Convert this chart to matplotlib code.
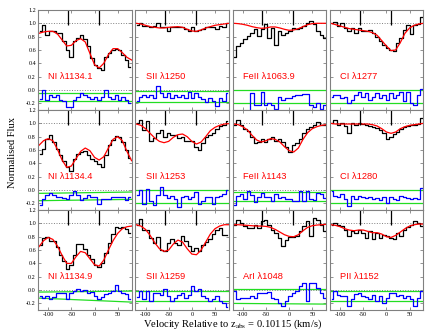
import matplotlib.pyplot as plt

plt.rcParams['font.family'] = 'Liberation Serif'
plt.rcParams['mathtext.fontset'] = 'stix'
plt.rcParams['axes.unicode_minus'] = False

# velocity bin centres of the spectra (km/s)
vel = [-118, -110.5, -103, -95.5, -88, -80.5, -73, -65.5, -58, -50.5, -43, -35.5, -28,
       -20.5, -13, -5.5, 2, 9.5, 17, 24.5, 32, 39.5, 47, 54.5, 62, 69.5, 77]
# velocities of the model profile points (km/s)
vmod = [-120, -110, -100, -90, -80, -70, -60, -50, -40, -30, -20, -10, 0, 10, 20, 30, 40, 50, 60, 70, 80]
# absorption components marked at the top
comps = [-58, 9]

labels = ['NI λ1134.1', 'SII λ1250', 'FeII λ1063.9', 'CI λ1277',
          'NI λ1134.4', 'SII λ1253', 'FeII λ1143', 'CI λ1280',
          'NI λ1134.9', 'SII λ1259', 'ArI λ1048', 'PII λ1152']

# NI 1134.1
ni1_flux = [0.88, 0.98, 0.83, 0.88, 0.88, 0.85, 0.85, 0.74, 0.60, 0.50, 0.73, 0.78, 0.83, 0.76,
            0.66, 0.48, 0.38, 0.33, 0.30, 0.50, 0.55, 0.60, 0.62, 0.60, 0.52, 0.45, 0.35]
ni1_model = [0.85, 0.87, 0.88, 0.88, 0.84, 0.75, 0.66, 0.67, 0.74, 0.77, 0.72, 0.55, 0.38, 0.33,
             0.40, 0.53, 0.62, 0.62, 0.56, 0.49, 0.45]
ni1_resid = [-0.13, 0.0, -0.15, -0.08, -0.1, -0.08, -0.15, -0.17, -0.25, -0.25, -0.15, -0.1, -0.05, -0.08,
             -0.1, -0.14, -0.1, -0.15, -0.1, 0.0, -0.1, -0.14, -0.08, -0.15, -0.1, -0.15, -0.2]

# SII 1250
s1_flux = [0.97, 1.0, 0.96, 0.96, 0.95, 0.96, 1.0, 0.94, 0.94, 0.88, 0.94, 0.95, 0.95, 0.94,
           0.92, 0.88, 0.94, 0.88, 0.9, 0.92, 0.94, 0.94, 0.94, 0.92, 0.96, 0.95, 1.0]
s1_model = [1.0, 0.99, 0.97, 0.95, 0.94, 0.93, 0.93, 0.94, 0.945, 0.95, 0.94, 0.91, 0.885, 0.88,
            0.9, 0.93, 0.95, 0.97, 0.98, 0.99, 1.0]
s1_resid = [-0.17, -0.1, -0.08, -0.1, -0.07, -0.12, 0.06, -0.05, -0.1, -0.04, -0.12, -0.08, -0.1, -0.07,
            -0.12, -0.03, -0.12, -0.04, -0.11, -0.13, -0.18, -0.12, -0.16, -0.24, -0.12, -0.17, -0.05]

# FeII 1063.9
fe1_flux = [0.5, 0.66, 0.71, 0.76, 0.81, 0.86, 0.91, 0.81, 0.91, 0.985, 0.78, 0.93, 0.68, 0.88,
            0.83, 0.86, 0.88, 0.93, 0.91, 0.93, 0.96, 1.01, 1.03, 0.985, 0.88, 0.83, 0.78]
fe1_model = [1.0, 0.995, 0.985, 0.97, 0.95, 0.935, 0.925, 0.93, 0.945, 0.945, 0.93, 0.91, 0.895, 0.9,
             0.92, 0.95, 0.98, 0.995, 1.0, 1.0, 1.0]
fe1_resid = [-0.6, -0.5, -0.45, -0.4, -0.33, -0.05, -0.23, -0.23, -0.035, -0.23, -0.2, -0.23, -0.28, -0.1,
             -0.15, -0.126, -0.126, -0.086, -0.076, -0.076, -0.066, -0.066, -0.23, -0.25, -0.2, -0.28, -0.23]

# CI 1277
c1_flux = [1.0, 1.02, 0.96, 1.0, 0.93, 0.88, 0.93, 0.86, 0.93, 0.88, 0.88, 0.9, 0.86, 0.79,
           0.73, 0.68, 0.63, 0.6, 0.58, 0.7, 0.78, 0.9, 0.98, 0.84, 0.98, 0.99, 1.1]
c1_model = [1.0, 0.98, 0.96, 0.94, 0.92, 0.91, 0.9, 0.89, 0.88, 0.86, 0.82, 0.74, 0.66, 0.59,
            0.6, 0.71, 0.85, 0.93, 0.97, 0.99, 1.0]
c1_resid = [-0.1, -0.08, -0.08, -0.12, -0.1, -0.2, -0.15, -0.08, -0.03, -0.1, -0.05, -0.15, -0.1, -0.05,
            -0.12, -0.08, -0.15, -0.05, -0.12, -0.08, -0.03, -0.17, -0.03, -0.2, -0.22, -0.08, 0.02]

# NI 1134.4
ni2_flux = [0.54, 0.62, 0.77, 0.82, 0.72, 0.62, 0.52, 0.44, 0.34, 0.29, 0.47, 0.54, 0.57, 0.59,
            0.52, 0.47, 0.44, 0.39, 0.34, 0.52, 0.67, 0.75, 0.81, 0.8, 0.72, 0.6, 0.48]
ni2_model = [0.67, 0.74, 0.77, 0.74, 0.61, 0.45, 0.34, 0.36, 0.47, 0.58, 0.63, 0.59, 0.49, 0.45,
             0.5, 0.63, 0.76, 0.8, 0.74, 0.58, 0.44]
ni2_resid = [-0.22, -0.13, -0.08, -0.05, -0.08, -0.1, -0.11, -0.12, -0.13, -0.08, -0.02, -0.08, -0.15, -0.12,
             -0.08, -0.11, -0.11, -0.21, -0.13, -0.14, -0.14, -0.11, -0.1, -0.11, -0.1, -0.15, -0.1]

# SII 1253
s2_flux = [1.0, 1.055, 0.9, 1.03, 0.73, 0.78, 0.85, 0.9, 0.8, 0.85, 0.83, 0.83, 0.78, 0.8,
           0.73, 0.74, 0.74, 0.65, 0.6, 0.7, 0.8, 0.83, 0.85, 0.92, 0.955, 0.98, 1.03]
s2_model = [0.99, 0.97, 0.92, 0.85, 0.78, 0.73, 0.71, 0.73, 0.79, 0.83, 0.84, 0.8, 0.73, 0.69,
            0.72, 0.8, 0.89, 0.94, 0.97, 0.99, 0.995]
s2_resid = [-0.07, 0.0, -0.21, 0.01, -0.17, -0.23, -0.07, 0.045, -0.07, -0.12, -0.09, -0.13, -0.26, -0.105,
            -0.09, -0.13, -0.105, -0.03, -0.21, -0.17, -0.105, -0.105, -0.21, -0.105, -0.09, -0.06, 0.0]

# FeII 1143
fe2_flux = [0.97, 1.05, 0.97, 0.92, 0.88, 0.8, 0.7, 0.72, 0.76, 0.72, 0.76, 0.8, 0.74, 0.77,
            0.72, 0.64, 0.57, 0.67, 0.7, 0.77, 0.86, 0.92, 0.94, 0.97, 1.02, 0.98, 0.97]
fe2_model = [0.99, 0.98, 0.95, 0.9, 0.82, 0.75, 0.72, 0.74, 0.77, 0.76, 0.72, 0.65, 0.59, 0.57,
             0.63, 0.76, 0.86, 0.92, 0.95, 0.97, 0.98]
fe2_resid = [-0.22, -0.09, -0.06, -0.13, -0.01, -0.08, -0.18, -0.11, -0.04, -0.11, -0.1, -0.16, -0.06, -0.12,
             -0.1, -0.13, -0.13, -0.16, -0.16, -0.01, -0.16, -0.02, -0.13, -0.15, -0.04, -0.06, -0.12]

# CI 1280
c2_flux = [1.0, 1.05, 0.97, 1.0, 0.96, 0.86, 1.0, 0.98, 1.0, 0.99, 0.98, 0.96, 0.95, 0.93,
           0.9, 0.86, 0.76, 0.8, 0.84, 0.87, 0.92, 0.94, 0.96, 0.97, 0.98, 0.99, 1.08]
c2_model = [1.0, 0.99, 0.99, 0.99, 0.99, 0.99, 0.99, 0.99, 0.99, 0.98, 0.96, 0.92, 0.87, 0.85,
            0.87, 0.92, 0.95, 0.97, 0.98, 0.99, 1.0]
c2_resid = [-0.01, -0.09, -0.11, -0.06, -0.14, -0.24, -0.09, -0.14, -0.09, -0.1, -0.12, -0.11, -0.14, -0.12,
            -0.15, -0.1, -0.19, -0.1, -0.14, -0.15, -0.09, -0.11, -0.12, -0.14, -0.12, -0.13, 0.03]

# NI 1134.9
ni3_flux = [0.68, 0.78, 0.8, 0.74, 0.74, 0.64, 0.52, 0.43, 0.31, 0.38, 0.53, 0.69, 0.69, 0.62,
            0.53, 0.46, 0.38, 0.34, 0.4, 0.55, 0.71, 0.84, 0.95, 0.93, 0.95, 0.92, 0.86]
ni3_model = [0.65, 0.74, 0.79, 0.76, 0.66, 0.52, 0.4, 0.4, 0.5, 0.58, 0.56, 0.47, 0.38, 0.36,
             0.45, 0.6, 0.74, 0.85, 0.92, 0.95, 0.96]
ni3_resid = [-0.09, -0.12, -0.09, -0.14, -0.1, -0.04, -0.05, -0.04, -0.14, -0.04, -0.02, 0.01, -0.02, 0.0,
             -0.04, -0.03, -0.09, -0.14, -0.1, -0.06, -0.04, -0.02, 0.08, -0.02, -0.04, -0.06, -0.14]

# SII 1259
s3_flux = [0.98, 1.06, 0.9, 0.9, 0.78, 0.71, 0.8, 0.6, 0.58, 0.7, 0.76, 0.71, 0.68, 0.81,
           0.73, 0.66, 0.58, 0.63, 0.58, 0.68, 0.72, 0.76, 0.84, 0.9, 0.93, 0.83, 0.83]
s3_model = [0.98, 0.96, 0.91, 0.82, 0.71, 0.62, 0.58, 0.6, 0.69, 0.75, 0.72, 0.62, 0.54, 0.53,
            0.6, 0.72, 0.84, 0.92, 0.96, 0.98, 0.98]
s3_resid = [-0.1, -0.02, -0.14, -0.02, -0.16, -0.04, -0.04, -0.07, 0.01, -0.09, -0.17, -0.12, -0.07, -0.04,
            -0.12, -0.07, 0.06, -0.015, 0.01, -0.09, -0.125, -0.16, -0.14, -0.09, -0.16, -0.19, -0.26]

# ArI 1048
ar_flux = [0.98, 1.055, 1.0, 0.955, 0.93, 0.93, 0.98, 0.93, 1.03, 1.055, 0.98, 0.905, 0.856, 0.78,
           0.665, 0.756, 0.796, 0.796, 0.816, 0.88, 0.955, 1.03, 0.806, 1.08, 1.055, 0.98, 0.88]
ar_model = [0.98, 0.98, 0.975, 0.97, 0.965, 0.96, 0.96, 0.955, 0.94, 0.91, 0.87, 0.83, 0.805, 0.8,
            0.83, 0.89, 0.94, 0.965, 0.975, 0.98, 0.985]
ar_resid = [-0.015, -0.14, -0.115, -0.115, -0.115, -0.09, -0.115, -0.05, -0.05, -0.04, -0.03, -0.115, -0.14, -0.19,
            -0.24, -0.164, -0.09, -0.05, -0.015, 0.06, 0.11, -0.164, 0.11, 0.11, 0.035, -0.04, -0.115]

# PII 1152
p_flux = [0.98, 1.0, 0.98, 0.955, 0.9, 0.81, 0.88, 0.86, 0.9, 0.86, 0.78, 0.88, 0.76, 0.86,
          0.78, 0.83, 0.81, 0.78, 0.76, 0.86, 0.81, 0.9, 0.95, 0.98, 1.03, 1.0, 0.955]
p_model = [0.98, 0.97, 0.95, 0.92, 0.9, 0.89, 0.9, 0.9, 0.88, 0.86, 0.86, 0.84, 0.8, 0.79,
           0.82, 0.87, 0.92, 0.96, 0.98, 0.99, 0.99]
p_resid = [-0.14, -0.015, -0.07, -0.09, -0.09, -0.24, -0.14, -0.055, -0.04, -0.09, -0.105, -0.14, -0.07, -0.164,
           -0.09, -0.19, -0.125, -0.04, -0.04, -0.09, -0.07, -0.115, -0.09, -0.14, -0.24, -0.115, -0.015]

# residual error bands (left end, right end)
band_hi = [(-0.04, -0.04), (-0.01, -0.01), (0.0, 0.0), (0.0, 0.0),
           (-0.05, -0.03), (0.0, 0.0), (-0.03, -0.03), (0.0, 0.0),
           (-0.03, -0.015), (-0.015, -0.015), (0.02, 0.02), (-0.015, -0.015)]
band_lo = [(-0.165, -0.165), (-0.185, -0.185), (-0.19, -0.19), (-0.19, -0.19),
           (-0.16, -0.14), (-0.19, -0.19), (-0.16, -0.16), (-0.19, -0.19),
           (-0.12, -0.18), (-0.17, -0.17), (-0.2, -0.21), (-0.165, -0.165)]

fluxes = [ni1_flux, s1_flux, fe1_flux, c1_flux, ni2_flux, s2_flux, fe2_flux, c2_flux,
          ni3_flux, s3_flux, ar_flux, p_flux]
models = [ni1_model, s1_model, fe1_model, c1_model, ni2_model, s2_model, fe2_model, c2_model,
          ni3_model, s3_model, ar_model, p_model]
resids = [ni1_resid, s1_resid, fe1_resid, c1_resid, ni2_resid, s2_resid, fe2_resid, c2_resid,
          ni3_resid, s3_resid, ar_resid, p_resid]

fig, axes = plt.subplots(3, 4, figsize=(4.37, 3.32), dpi=100, sharex=True, sharey=True)
fig.subplots_adjust(left=0.087, right=0.969, bottom=0.066, top=0.97, wspace=0.04, hspace=0)

for i, ax in enumerate(axes.flat):
    ax.set_xlim(-122, 80)
    ax.set_ylim(-0.3, 1.2)
    ends = ax.get_xlim()
    ax.axhline(1.0, color='gray', ls=':', lw=0.7)
    ax.axhline(0.0, color='gray', ls=':', lw=0.7)
    ax.plot(ends, band_hi[i], color='#22dd22', lw=0.9)
    ax.plot(ends, band_lo[i], color='#22dd22', lw=0.9)
    ax.step(vel, resids[i], where='mid', color='blue', lw=0.9)
    ax.step(vel, fluxes[i], where='mid', color='black', lw=0.9)
    ax.plot(vmod, models[i], color='red', lw=0.9)
    ax.vlines(comps, 0.97, 1.2, color='black', lw=0.9)
    ax.text(-100, 0.2, labels[i], color='red', fontsize=6.7, family='Liberation Sans', va='center')
    ax.set_xticks([-100, -50, 0, 50])
    ax.set_yticks([-0.2, 0.0, 0.2, 0.4, 0.6, 0.8, 1.0, 1.2])
    ax.tick_params(direction='in', top=True, right=True, length=2.5, width=0.6,
                   color='gray', labelsize=4.4, pad=1.5)
    for s in ax.spines.values():
        s.set_color('gray')
        s.set_linewidth(0.8)

fig.text(0.028, 0.542, 'Normalised Flux', rotation=90, ha='center', va='center', fontsize=7.6)
fig.text(0.532, 0.022, 'Velocity Relative to z$_{\\rm abs}$ = 0.10115 (km/s)',
         ha='center', va='center', fontsize=7.6)

plt.savefig('out.png', dpi=100)
